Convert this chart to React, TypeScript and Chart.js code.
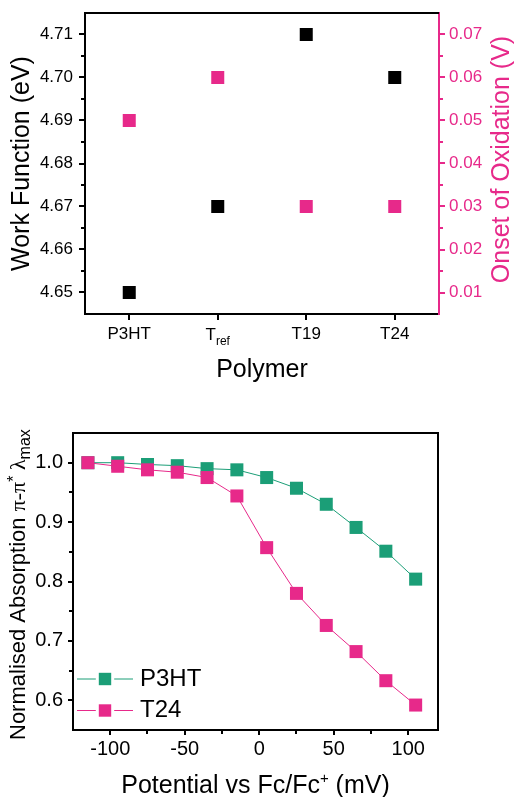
import React, { useEffect, useRef } from "react";
import { Chart, registerables } from "chart.js";

Chart.register(...registerables);

// ---------- Top panel data ----------
const POLYMERS = ["P3HT", "Tref", "T19", "T24"];
const WORK_FUNCTION = [4.65, 4.67, 4.71, 4.7];
const ONSET_OXIDATION = [0.05, 0.06, 0.03, 0.03];
const WORK_FUNCTION_TICKS = [4.65, 4.66, 4.67, 4.68, 4.69, 4.7, 4.71];
const ONSET_TICKS = [0.01, 0.02, 0.03, 0.04, 0.05, 0.06, 0.07];

// ---------- Bottom panel data ----------
const POTENTIAL_MV = [-115, -95, -75, -55, -35, -15, 5, 25, 45, 65, 85, 105];
const ABS_P3HT = [1.0, 1.0, 0.997, 0.995, 0.99, 0.988, 0.975, 0.957, 0.93, 0.891, 0.851, 0.804];
const ABS_T24 = [1.0, 0.994, 0.988, 0.984, 0.975, 0.944, 0.857, 0.78, 0.726, 0.682, 0.633, 0.592];
const POTENTIAL_TICKS = [-100, -50, 0, 50, 100];
const ABSORPTION_TICKS = [0.6, 0.7, 0.8, 0.9, 1.0];

const FONT = "'Liberation Sans', Arial, Helvetica, sans-serif";
const SERIF = "'Liberation Serif', 'DejaVu Serif', serif";
const BLACK = "#000000";
const PINK = "#e7298a";
const GREEN = "#1b9e77";

type Seg = { text: string; font: string; dy: number };

function fixSize(prop: "width" | "height", size: number) {
  return (scale: any) => {
    scale[prop] = size;
    scale.paddingTop = 0;
    scale.paddingBottom = 0;
    scale.paddingLeft = 0;
    scale.paddingRight = 0;
  };
}

function setTicks(values: number[]) {
  return (scale: any) => {
    scale.ticks = values.map((v) => ({ value: v }));
  };
}

function segsWidth(ctx: CanvasRenderingContext2D, segs: Seg[]) {
  let w = 0;
  for (const s of segs) {
    ctx.font = s.font;
    w += ctx.measureText(s.text).width;
  }
  return w;
}

function drawSegs(ctx: CanvasRenderingContext2D, segs: Seg[], x0: number, y0: number) {
  let x = x0;
  for (const s of segs) {
    ctx.font = s.font;
    ctx.fillText(s.text, x, y0 + s.dy);
    x += ctx.measureText(s.text).width;
  }
}

function drawMinorTicks(chart: any, id: string, len: number, color: string) {
  const s = chart.scales[id];
  const a = chart.chartArea;
  const ctx = chart.ctx as CanvasRenderingContext2D;
  const vals = s.ticks.map((t: any) => t.value);
  if (vals.length < 2) return;
  const step = vals[1] - vals[0];
  const minors = [vals[0] - step / 2, ...vals.map((v: number) => v + step / 2)];
  ctx.save();
  ctx.strokeStyle = color;
  ctx.lineWidth = 2;
  ctx.beginPath();
  for (const v of minors) {
    if (v <= s.min + Math.abs(step) * 0.05 || v >= s.max - Math.abs(step) * 0.05) continue;
    const p = Math.round(s.getPixelForValue(v));
    if (s.isHorizontal()) {
      const y = a.bottom + 1;
      ctx.moveTo(p, y);
      ctx.lineTo(p, y + len);
    } else if (s.position === "left") {
      const x = a.left - 1;
      ctx.moveTo(x, p);
      ctx.lineTo(x - len, p);
    } else {
      const x = a.right + 1;
      ctx.moveTo(x, p);
      ctx.lineTo(x + len, p);
    }
  }
  ctx.stroke();
  ctx.restore();
}

const topPlugin = {
  id: "topPanelExtras",
  afterDraw(chart: any) {
    const ctx = chart.ctx as CanvasRenderingContext2D;
    const a = chart.chartArea;
    // top frame line
    ctx.save();
    ctx.strokeStyle = BLACK;
    ctx.lineWidth = 2;
    ctx.beginPath();
    ctx.moveTo(a.left - 1, a.top);
    ctx.lineTo(a.right, a.top);
    ctx.stroke();
    ctx.restore();

    drawMinorTicks(chart, "y", 3, BLACK);
    drawMinorTicks(chart, "y2", 3, PINK);

    // category label with subscript (T_ref)
    const xs = chart.scales.x;
    const midY = xs.top + 6 + 4 + (17 * 1.2) / 2;
    ctx.save();
    ctx.fillStyle = BLACK;
    ctx.textBaseline = "alphabetic";
    ctx.textAlign = "left";
    POLYMERS.forEach((lab, i) => {
      if (lab !== "Tref") return;
      const segs: Seg[] = [
        { text: "T", font: `17px ${FONT}`, dy: 0 },
        { text: "ref", font: `12px ${FONT}`, dy: 5 },
      ];
      const w = segsWidth(ctx, segs);
      const px = xs.getPixelForValue(i);
      drawSegs(ctx, segs, px - w / 2, midY + 6);
    });
    ctx.restore();

    // right axis title (reads bottom-to-top)
    ctx.save();
    ctx.translate(a.right + 69.5, (a.top + a.bottom) / 2 - 4);
    ctx.rotate(-Math.PI / 2);
    ctx.fillStyle = PINK;
    ctx.font = `25px ${FONT}`;
    ctx.textAlign = "center";
    ctx.textBaseline = "alphabetic";
    ctx.fillText("Onset of Oxidation (V)", 0, 0);
    ctx.restore();
  },
};

const bottomPlugin = {
  id: "bottomPanelExtras",
  afterDraw(chart: any) {
    const ctx = chart.ctx as CanvasRenderingContext2D;
    const a = chart.chartArea;
    // top & right frame lines
    ctx.save();
    ctx.strokeStyle = BLACK;
    ctx.lineWidth = 2;
    ctx.beginPath();
    ctx.moveTo(a.left - 1, a.top);
    ctx.lineTo(a.right + 1, a.top);
    ctx.moveTo(a.right, a.top);
    ctx.lineTo(a.right, a.bottom);
    ctx.stroke();
    ctx.restore();

    drawMinorTicks(chart, "x", 3, BLACK);
    drawMinorTicks(chart, "y", 3, BLACK);

    // y axis title with sub/superscripts
    ctx.save();
    ctx.fillStyle = BLACK;
    ctx.textAlign = "left";
    ctx.textBaseline = "alphabetic";
    ctx.translate(25, a.bottom + 10);
    ctx.rotate(-Math.PI / 2);
    const ySegs: Seg[] = [
      { text: "Normalised Absorption ", font: `22px ${FONT}`, dy: 0 },
      { text: "\u03c0-\u03c0", font: `22px ${SERIF}`, dy: 0 },
      { text: "*", font: `16px ${FONT}`, dy: -6 },
      { text: " \u03bb", font: `22px ${SERIF}`, dy: 0 },
      { text: "max", font: `16px ${FONT}`, dy: 5 },
    ];
    drawSegs(ctx, ySegs, 0, 0);
    ctx.restore();

    // x axis title with superscript
    ctx.save();
    ctx.fillStyle = BLACK;
    ctx.textAlign = "left";
    ctx.textBaseline = "alphabetic";
    const xSegs: Seg[] = [
      { text: "Potential vs Fc/Fc", font: `25px ${FONT}`, dy: 0 },
      { text: "+", font: `15px ${FONT}`, dy: -10 },
      { text: " (mV)", font: `25px ${FONT}`, dy: 0 },
    ];
    const w = segsWidth(ctx, xSegs);
    drawSegs(ctx, xSegs, (a.left + a.right) / 2 - w / 2, a.bottom + 63);
    ctx.restore();

    // legend: line - square - line, label
    const rows = [a.bottom - 51, a.bottom - 19.5];
    chart.data.datasets.forEach((ds: any, i: number) => {
      const y = rows[i];
      const x0 = a.left + 4;
      const x1 = a.left + 60;
      const cx = (x0 + x1) / 2;
      const half = 6.2;
      ctx.save();
      ctx.strokeStyle = ds.borderColor;
      ctx.lineWidth = 1;
      ctx.beginPath();
      ctx.moveTo(x0, y);
      ctx.lineTo(cx - half - 3, y);
      ctx.moveTo(cx + half + 3, y);
      ctx.lineTo(x1, y);
      ctx.stroke();
      ctx.fillStyle = ds.pointBackgroundColor;
      ctx.fillRect(cx - half, y - half, half * 2, half * 2);
      ctx.fillStyle = BLACK;
      ctx.font = `24px ${FONT}`;
      ctx.textAlign = "left";
      ctx.textBaseline = "middle";
      ctx.fillText(ds.label, a.left + 67, y);
      ctx.restore();
    });
  },
};

function topConfig(): any {
  const pointCommon = {
    showLine: false,
    pointStyle: "rect",
    pointRadius: 9.2,
    pointHoverRadius: 9.2,
    pointBorderWidth: 0,
  };
  return {
    type: "line",
    data: {
      labels: POLYMERS,
      datasets: [
        {
          ...pointCommon,
          label: "Work Function (eV)",
          data: WORK_FUNCTION,
          yAxisID: "y",
          borderColor: BLACK,
          backgroundColor: BLACK,
          pointBackgroundColor: BLACK,
        },
        {
          ...pointCommon,
          label: "Onset of Oxidation (V)",
          data: ONSET_OXIDATION,
          yAxisID: "y2",
          borderColor: PINK,
          backgroundColor: PINK,
          pointBackgroundColor: PINK,
        },
      ],
    },
    options: {
      responsive: false,
      animation: false,
      devicePixelRatio: 1,
      events: [],
      layout: { padding: { top: 13, left: 0, right: 0, bottom: 0 } },
      plugins: { legend: { display: false }, tooltip: { enabled: false } },
      scales: {
        x: {
          type: "category",
          offset: true,
          grid: { display: true, offset: false, drawOnChartArea: false, drawTicks: true, tickLength: 6, tickWidth: 2, tickColor: BLACK, lineWidth: 2, color: BLACK },
          border: { display: true, width: 2, color: BLACK },
          ticks: {
            color: BLACK,
            padding: 4,
            autoSkip: false,
            maxRotation: 0,
            font: { family: FONT, size: 17, lineHeight: 1.2 },
            callback: (_v: any, i: number) => (POLYMERS[i] === "Tref" ? "" : POLYMERS[i]),
          },
          title: { display: true, text: "Polymer", color: BLACK, font: { family: FONT, size: 25, lineHeight: 1 }, padding: { top: 0, bottom: 17 } },
          afterFit: fixSize("height", 86),
        },
        y: {
          type: "linear",
          position: "left",
          min: 4.645,
          max: 4.715,
          afterBuildTicks: setTicks(WORK_FUNCTION_TICKS),
          grid: { display: true, drawOnChartArea: false, drawTicks: true, tickLength: 6, tickWidth: 2, tickColor: BLACK, lineWidth: 2, color: BLACK },
          border: { display: true, width: 2, color: BLACK },
          ticks: { color: BLACK, padding: 6, font: { family: FONT, size: 17 }, callback: (v: any) => Number(v).toFixed(2) },
          title: { display: true, text: "Work Function (eV)", color: BLACK, font: { family: FONT, size: 25, lineHeight: 1 }, padding: { top: 10, bottom: 0 } },
          afterFit: fixSize("width", 85),
        },
        y2: {
          type: "linear",
          position: "right",
          min: 0.005,
          max: 0.075,
          afterBuildTicks: setTicks(ONSET_TICKS),
          grid: { display: true, drawOnChartArea: false, drawTicks: true, tickLength: 6, tickWidth: 2, tickColor: PINK, lineWidth: 2, color: PINK },
          border: { display: true, width: 2, color: PINK },
          ticks: { color: PINK, padding: 4, font: { family: FONT, size: 17 }, callback: (v: any) => Number(v).toFixed(2) },
          title: { display: false },
          afterFit: fixSize("width", 75),
        },
      },
    },
    plugins: [topPlugin],
  };
}

function bottomConfig(): any {
  const lineCommon = {
    showLine: true,
    borderWidth: 1,
    pointStyle: "rect",
    pointRadius: 9.2,
    pointHoverRadius: 9.2,
    pointBorderWidth: 0,
    tension: 0,
  };
  return {
    type: "scatter",
    data: {
      datasets: [
        {
          ...lineCommon,
          label: "P3HT",
          order: 2,
          data: POTENTIAL_MV.map((x, i) => ({ x, y: ABS_P3HT[i] })),
          borderColor: GREEN,
          backgroundColor: GREEN,
          pointBackgroundColor: GREEN,
        },
        {
          ...lineCommon,
          label: "T24",
          order: 1,
          data: POTENTIAL_MV.map((x, i) => ({ x, y: ABS_T24[i] })),
          borderColor: PINK,
          backgroundColor: PINK,
          pointBackgroundColor: PINK,
        },
      ],
    },
    options: {
      responsive: false,
      animation: false,
      devicePixelRatio: 1,
      events: [],
      layout: { padding: { top: 33, left: 0, right: 76, bottom: 0 } },
      plugins: { legend: { display: false }, tooltip: { enabled: false } },
      scales: {
        x: {
          type: "linear",
          position: "bottom",
          min: -125,
          max: 120,
          afterBuildTicks: setTicks(POTENTIAL_TICKS),
          grid: { display: true, drawOnChartArea: false, drawTicks: true, tickLength: 5, tickWidth: 2, tickColor: BLACK, lineWidth: 2, color: BLACK },
          border: { display: true, width: 2, color: BLACK },
          ticks: { color: BLACK, padding: 2, maxRotation: 0, autoSkip: false, font: { family: FONT, size: 20, lineHeight: 1.2 }, callback: (v: any) => String(v) },
          title: { display: false },
          afterFit: fixSize("height", 67),
        },
        y: {
          type: "linear",
          position: "left",
          min: 0.55,
          max: 1.05,
          afterBuildTicks: setTicks(ABSORPTION_TICKS),
          grid: { display: true, drawOnChartArea: false, drawTicks: true, tickLength: 5, tickWidth: 2, tickColor: BLACK, lineWidth: 2, color: BLACK },
          border: { display: true, width: 2, color: BLACK },
          ticks: { color: BLACK, padding: 5, font: { family: FONT, size: 20 }, callback: (v: any) => Number(v).toFixed(1) },
          title: { display: false },
          afterFit: fixSize("width", 73),
        },
      },
    },
    plugins: [bottomPlugin],
  };
}

export default function App() {
  const topRef = useRef<HTMLCanvasElement>(null);
  const botRef = useRef<HTMLCanvasElement>(null);

  useEffect(() => {
    const c1 = new Chart(topRef.current as HTMLCanvasElement, topConfig());
    const c2 = new Chart(botRef.current as HTMLCanvasElement, bottomConfig());
    return () => {
      c1.destroy();
      c2.destroy();
    };
  }, []);

  return (
    <div style={{ position: "absolute", left: 0, top: 0, width: 514, height: 797, background: "#ffffff", overflow: "hidden" }}>
      <canvas
        ref={topRef}
        width={514}
        height={400}
        style={{ position: "absolute", left: 0, top: 0, width: 514, height: 400, display: "block" }}
      />
      <canvas
        ref={botRef}
        width={514}
        height={397}
        style={{ position: "absolute", left: 0, top: 400, width: 514, height: 397, display: "block" }}
      />
    </div>
  );
}
